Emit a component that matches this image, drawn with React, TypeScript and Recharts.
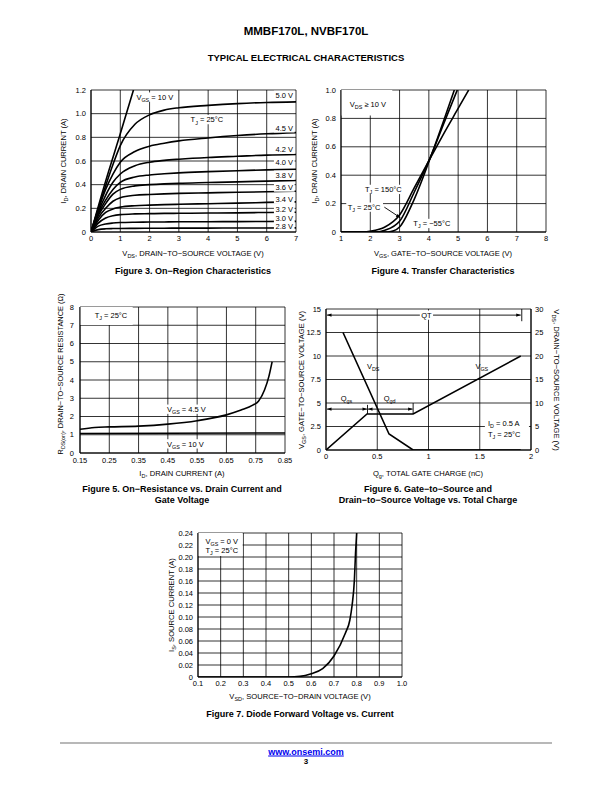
import React from 'react';
import {
  LineChart,
  Line,
  XAxis,
  YAxis,
  CartesianGrid,
  ReferenceDot,
  ReferenceLine,
  ReferenceArea,
} from 'recharts';

const FONT = '"Liberation Sans", Arial, Helvetica, sans-serif';
const INK = '#000';

// ---------------- Figure 3 : On-region characteristics ----------------
const f3Vds = [0, 0.25, 0.5, 0.75, 1, 1.5, 2, 2.5, 3, 4, 5, 6, 7];
const f3Id50 = [0, 0.2, 0.39, 0.57, 0.73, 0.91, 0.99, 1.03, 1.05, 1.07, 1.085, 1.095, 1.1];
const f3Id45 = [0, 0.19, 0.36, 0.49, 0.59, 0.68, 0.725, 0.75, 0.77, 0.795, 0.815, 0.83, 0.84];
const f3Id42 = [0, 0.17, 0.31, 0.42, 0.49, 0.56, 0.59, 0.605, 0.615, 0.63, 0.64, 0.65, 0.655];
const f3Id40 = [0, 0.155, 0.27, 0.36, 0.42, 0.465, 0.482, 0.492, 0.5, 0.51, 0.518, 0.525, 0.53];
const f3Id38 = [0, 0.14, 0.24, 0.32, 0.36, 0.39, 0.4, 0.407, 0.412, 0.418, 0.424, 0.43, 0.435];
const f3Id36 = [0, 0.12, 0.2, 0.26, 0.29, 0.31, 0.317, 0.322, 0.326, 0.331, 0.336, 0.34, 0.345];
const f3Id34 = [0, 0.1, 0.165, 0.195, 0.21, 0.222, 0.227, 0.231, 0.234, 0.239, 0.244, 0.25, 0.255];
const f3Id32 = [0, 0.075, 0.118, 0.138, 0.147, 0.153, 0.155, 0.157, 0.158, 0.16, 0.162, 0.165, 0.167];
const f3Id30 = [0, 0.05, 0.068, 0.076, 0.08, 0.083, 0.084, 0.085, 0.086, 0.087, 0.088, 0.089, 0.09];
const f3Id28 = [0, 0.02, 0.027, 0.029, 0.03, 0.031, 0.032, 0.032, 0.033, 0.033, 0.034, 0.034, 0.035];
const f3Vds10 = [0, 0.5, 1, 1.45];
const f3Id10 = [0, 0.43, 0.83, 1.2];
const f3Curves = [f3Id50, f3Id45, f3Id42, f3Id40, f3Id38, f3Id36, f3Id34, f3Id32, f3Id30, f3Id28];
const f3Labels = ['5.0 V', '4.5 V', '4.2 V', '4.0 V', '3.8 V', '3.6 V', '3.4 V', '3.2 V', '3.0 V', '2.8 V'];
const f3LabelY = [1.155, 0.88, 0.7, 0.59, 0.48, 0.38, 0.28, 0.19, 0.12, 0.05];
const f3XTicks = [0, 1, 2, 3, 4, 5, 6, 7];
const f3YTicks = [0, 0.2, 0.4, 0.6, 0.8, 1.0, 1.2];

// ---------------- Figure 4 : Transfer characteristics ----------------
const f4Vgs150 = [1, 1.8, 2, 2.5, 3, 3.5, 4.1, 4.5, 5, 5.36];
const f4Id150 = [0, 0, 0.005, 0.035, 0.12, 0.31, 0.54, 0.69, 0.87, 1.0];
const f4Vgs25 = [1, 2.2, 2.5, 3, 3.5, 4.1, 4.5, 4.97];
const f4Id25 = [0, 0, 0.012, 0.075, 0.28, 0.55, 0.76, 1.0];
const f4VgsM55 = [1, 2.6, 2.8, 3, 3.5, 4.1, 4.5, 4.87];
const f4IdM55 = [0, 0, 0.008, 0.035, 0.23, 0.55, 0.78, 1.0];
const f4XTicks = [1, 2, 3, 4, 5, 6, 7, 8];
const f4YTicks = [0, 0.2, 0.4, 0.6, 0.8, 1.0];

// ---------------- Figure 5 : On-resistance ----------------
const f5Id45 = [0.15, 0.2, 0.25, 0.35, 0.45, 0.55, 0.65, 0.7, 0.74, 0.76, 0.78, 0.795, 0.806];
const f5R45 = [1.3, 1.4, 1.43, 1.47, 1.58, 1.77, 2.09, 2.35, 2.62, 2.85, 3.45, 4.2, 5.0];
const f5Id10 = [0.15, 0.85];
const f5R10 = [1.07, 1.1];
const f5XTicks = [0.15, 0.25, 0.35, 0.45, 0.55, 0.65, 0.75, 0.85];
const f5YTicks = [0, 1, 2, 3, 4, 5, 6, 7, 8];

// ---------------- Figure 6 : Gate charge ----------------
const f6QgVgs = [0, 0.4, 0.85, 1.9];
const f6Vgs = [0, 3.83, 3.83, 10];
const f6QgVds = [0.166, 0.615, 0.85, 1.9];
const f6Vds = [25, 3.4, 0, 0];
const f6XTicks = [0, 0.5, 1, 1.5, 2];
const f6LTicks = [0, 2.5, 5, 7.5, 10, 12.5, 15];
const f6RTicks = [0, 5, 10, 15, 20, 25, 30];

// ---------------- Figure 7 : Diode forward ----------------
const f7Vsd = [0.1, 0.5, 0.55, 0.6, 0.65, 0.7, 0.75, 0.77, 0.78, 0.79, 0.795, 0.8];
const f7Is = [0, 0, 0.001, 0.0056, 0.014, 0.035, 0.073, 0.095, 0.12, 0.162, 0.206, 0.24];
const f7XTicks = [0.1, 0.2, 0.3, 0.4, 0.5, 0.6, 0.7, 0.8, 0.9, 1.0];
const f7YTicks = [0, 0.02, 0.04, 0.06, 0.08, 0.1, 0.12, 0.14, 0.16, 0.18, 0.2, 0.22, 0.24];

// ---------------- helpers ----------------
type Part = string | { sub: string };
const zip = (xs: number[], ys: number[]) => xs.map((x, i) => ({ x, y: ys[i] }));

const LW = 40;
const TP = 6;
const BH = 22;
const TICK = { fontSize: 7.5, fill: INK, fontFamily: FONT };
const AXIS = { stroke: INK, strokeWidth: 1 };

function strW(s: string) {
  let w = 0;
  for (const c of s) {
    if (' .,il()'.includes(c)) w += 0.28;
    else if (c >= 'A' && c <= 'Z') w += 0.68;
    else if ('=−≥'.includes(c)) w += 0.584;
    else if (c === '°') w += 0.4;
    else w += 0.556;
  }
  return w;
}
function partsW(parts: Part[], fs: number) {
  let w = 0;
  for (const p of parts) w += typeof p === 'string' ? strW(p) * fs : strW(p.sub) * fs * 0.72;
  return w;
}

function SvgText(props: { cx: number; cy: number; parts: Part[]; fs: number; anchor: string; box?: boolean }) {
  const { cx, cy, parts, fs, anchor, box } = props;
  const w = partsW(parts, fs);
  const x0 = anchor === 'end' ? cx - w : anchor === 'middle' ? cx - w / 2 : cx;
  const spans: React.ReactNode[] = [];
  let down = false;
  parts.forEach((p, i) => {
    if (typeof p === 'string') {
      spans.push(
        <tspan key={i} fontSize={fs} dy={down ? -fs * 0.3 : 0}>
          {p}
        </tspan>
      );
      down = false;
    } else {
      spans.push(
        <tspan key={i} fontSize={fs * 0.72} dy={down ? 0 : fs * 0.3}>
          {p.sub}
        </tspan>
      );
      down = true;
    }
  });
  return (
    <g>
      {box && <rect x={x0 - 1.5} y={cy - fs * 0.62} width={w + 3} height={fs * 1.24} fill="#fff" />}
      <text x={cx} y={cy + fs * 0.36} fontFamily={FONT} fill={INK} fontSize={fs} textAnchor={anchor as any}>
        {spans}
      </text>
    </g>
  );
}

type NoteOpts = { anchor?: string; box?: boolean; fs?: number; yAxisId?: string | number };
const note = (key: string, x: number, y: number, parts: Part[], o: NoteOpts = {}) => (
  <ReferenceDot
    key={key}
    x={x}
    y={y}
    r={0}
    yAxisId={o.yAxisId ?? 0}
    ifOverflow="visible"
    fill="none"
    stroke="none"
    shape={(p: any) => (
      <SvgText cx={p.cx} cy={p.cy} parts={parts} fs={o.fs ?? 7.5} anchor={o.anchor ?? 'start'} box={o.box} />
    )}
  />
);

function head(x: number, y: number, dx: number, dy: number, size = 4.5) {
  const len = Math.hypot(dx, dy) || 1;
  const ux = dx / len;
  const uy = dy / len;
  const bx = x - ux * size;
  const by = y - uy * size;
  const px = -uy * size * 0.38;
  const py = ux * size * 0.38;
  return `${x},${y} ${bx + px},${by + py} ${bx - px},${by - py}`;
}

type SegOpts = { start?: boolean; end?: boolean; w?: number };
const seg = (key: string, a: { x: number; y: number }, b: { x: number; y: number }, o: SegOpts = {}) => (
  <ReferenceLine
    key={key}
    segment={[a, b]}
    ifOverflow="visible"
    stroke={INK}
    shape={(p: any) => {
      const { x1, y1, x2, y2 } = p;
      return (
        <g>
          <line x1={x1} y1={y1} x2={x2} y2={y2} stroke={INK} strokeWidth={o.w ?? 0.9} />
          {o.end && <polygon points={head(x2, y2, x2 - x1, y2 - y1)} fill={INK} />}
          {o.start && <polygon points={head(x1, y1, x1 - x2, y1 - y2)} fill={INK} />}
        </g>
      );
    }}
  />
);

const whiteBox = (key: string, x1: number, x2: number, y1: number, y2: number) => (
  <ReferenceArea key={key} x1={x1} x2={x2} y1={y1} y2={y2} fill="#fff" fillOpacity={1} stroke="none" ifOverflow="visible" />
);

const curve = (key: string, xs: number[], ys: number[], type: any = 'monotone', yAxisId: string | number = 0) => (
  <Line
    key={key}
    data={zip(xs, ys)}
    dataKey="y"
    type={type}
    dot={false}
    activeDot={false}
    stroke={INK}
    strokeWidth={1.6}
    isAnimationActive={false}
    yAxisId={yAxisId}
  />
);

const xAxis = (domain: number[], ticks: number[], fmt: (v: number) => string, margin = 4) => (
  <XAxis
    key="xa"
    type="number"
    dataKey="x"
    domain={domain}
    ticks={ticks}
    interval={0}
    tickFormatter={fmt}
    tick={TICK}
    tickLine={false}
    tickSize={0}
    tickMargin={margin}
    axisLine={AXIS}
    height={BH}
    allowDataOverflow
  />
);

const yAxis = (
  domain: number[],
  ticks: number[],
  fmt: (v: number) => string,
  id: string | number = 0,
  right = false,
  w = LW,
  margin?: number
) => (
  <YAxis
    key={'ya' + id}
    yAxisId={id}
    orientation={right ? 'right' : 'left'}
    type="number"
    domain={domain}
    ticks={ticks}
    interval={0}
    tickFormatter={fmt}
    tick={TICK}
    tickLine={false}
    tickSize={0}
    tickMargin={margin ?? (right ? 4 : 5)}
    axisLine={AXIS}
    width={w}
    allowDataOverflow
  />
);

function Panel(props: { px: number; py: number; pw: number; ph: number; rightW?: number; children: React.ReactNode }) {
  const { px, py, pw, ph, rightW = 0, children } = props;
  const RP = rightW ? 0 : 8;
  return (
    <div style={{ position: 'absolute', left: px - LW, top: py - TP }}>
      <LineChart
        width={LW + pw + rightW + RP}
        height={TP + ph + BH}
        margin={{ top: TP, right: RP, bottom: 0, left: 0 }}
      >
        {children}
      </LineChart>
    </div>
  );
}

const Sub = ({ children }: { children: React.ReactNode }) => (
  <span style={{ fontSize: '0.72em', position: 'relative', top: '0.3em' }}>{children}</span>
);

function T(props: { x: number; y: number; size?: number; bold?: boolean; rot?: number; color?: string; children: React.ReactNode; underline?: boolean }) {
  const { x, y, size = 7.6, bold = false, rot = 0, color = INK, children, underline } = props;
  return (
    <div
      style={{
        position: 'absolute',
        left: x,
        top: y,
        transform: `translate(-50%, -50%) rotate(${rot}deg)`,
        fontSize: size,
        fontWeight: bold ? 700 : 400,
        fontFamily: FONT,
        whiteSpace: 'nowrap',
        lineHeight: 1,
        color,
        textDecoration: underline ? 'underline' : 'none',
      }}
    >
      {children}
    </div>
  );
}

const fmt1 = (v: number) => (v === 0 ? '0' : v.toFixed(1));
const fmt2 = (v: number) => v.toFixed(2);
const fmtPlain = (v: number) => String(v);
const fmt7y = (v: number) => (v === 0 ? '0' : v.toFixed(2));

const GRID = <CartesianGrid key="grid" stroke={INK} strokeWidth={0.8} />;

export default function App() {
  return (
    <div style={{ position: 'absolute', left: 0, top: 0, width: 612, height: 792, background: '#fff', overflow: 'hidden' }}>
      <T x={306} y={32} size={11.5} bold>
        MMBF170L, NVBF170L
      </T>
      <T x={306} y={58} size={9.5} bold>
        TYPICAL ELECTRICAL CHARACTERISTICS
      </T>

      {/* Figure 3 */}
      <Panel px={91} py={90} pw={205} ph={142}>
        {GRID}
        {xAxis([0, 7], f3XTicks, fmtPlain)}
        {yAxis([0, 1.2], f3YTicks, fmt1)}
        {f3Curves.map((c, i) => curve('f3c' + i, f3Vds, c))}
        {curve('f3c10', f3Vds10, f3Id10)}
        {f3Labels.map((l, i) => note('f3l' + i, 6.9, f3LabelY[i], [l], { anchor: 'end', box: true }))}
        {note('f3vgs', 1.55, 1.14, ['V', { sub: 'GS' }, ' = 10 V'], { box: true })}
        {note('f3tj', 3.4, 0.95, ['T', { sub: 'J' }, ' = 25°C'], { box: true })}
      </Panel>
      <T x={64} y={161} rot={-90}>
        I<Sub>D</Sub>, DRAIN CURRENT (A)
      </T>
      <T x={193} y={254}>
        V<Sub>DS</Sub>, DRAIN−TO−SOURCE VOLTAGE (V)
      </T>
      <T x={193} y={271} size={9} bold>
        Figure 3. On−Region Characteristics
      </T>

      {/* Figure 4 */}
      <Panel px={341} py={90} pw={205} ph={142}>
        {GRID}
        {xAxis([1, 8], f4XTicks, fmtPlain)}
        {yAxis([0, 1], f4YTicks, fmt1)}
        {whiteBox('f4box', 1, 2.75, 0.82, 1.0)}
        {curve('f4a', f4Vgs150, f4Id150)}
        {curve('f4b', f4Vgs25, f4Id25)}
        {curve('f4c', f4VgsM55, f4IdM55)}
        {note('f4vds', 1.3, 0.9, ['V', { sub: 'DS' }, ' ≥ 10 V'])}
        {note('f4t150', 1.82, 0.3, ['T', { sub: 'J' }, ' = 150°C'], { box: true })}
        {note('f4t25', 1.23, 0.175, ['T', { sub: 'J' }, ' = 25°C'], { box: true })}
        {seg('f4arr', { x: 2.48, y: 0.175 }, { x: 3.03, y: 0.1 }, { end: true })}
        {note('f4t55', 3.47, 0.06, ['T', { sub: 'J' }, ' = −55°C'], { box: true })}
      </Panel>
      <T x={315} y={161} rot={-90}>
        I<Sub>D</Sub>, DRAIN CURRENT (A)
      </T>
      <T x={443} y={254}>
        V<Sub>GS</Sub>, GATE−TO−SOURCE VOLTAGE (V)
      </T>
      <T x={443} y={271} size={9} bold>
        Figure 4. Transfer Characteristics
      </T>

      {/* Figure 5 */}
      <Panel px={80} py={307} pw={205} ph={146}>
        {GRID}
        {xAxis([0.15, 0.85], f5XTicks, fmt2, 5)}
        {yAxis([0, 8], f5YTicks, fmtPlain, 0, false, LW, 6)}
        {whiteBox('f5box', 0.15, 0.33, 7.02, 8)}
        {curve('f5a', f5Id45, f5R45)}
        {curve('f5b', f5Id10, f5R10, 'linear')}
        {note('f5tj', 0.2, 7.57, ['T', { sub: 'J' }, ' = 25°C'])}
        {note('f5v45', 0.447, 2.4, ['V', { sub: 'GS' }, ' = 4.5 V'], { box: true })}
        {note('f5v10', 0.447, 0.5, ['V', { sub: 'GS' }, ' = 10 V'], { box: true })}
      </Panel>
      <T x={61} y={374} size={7.4} rot={-90}>
        R<Sub>DS(on)</Sub>, DRAIN−TO−SOURCE RESISTANCE (Ω)
      </T>
      <T x={182} y={474}>
        I<Sub>D</Sub>, DRAIN CURRENT (A)
      </T>
      <T x={182} y={489} size={9} bold>
        Figure 5. On−Resistance vs. Drain Current and
      </T>
      <T x={182} y={500} size={9} bold>
        Gate Voltage
      </T>

      {/* Figure 6 */}
      <Panel px={326} py={309} pw={205} ph={141} rightW={30}>
        {GRID}
        {xAxis([0, 2], f6XTicks, fmtPlain)}
        {yAxis([0, 15], f6LTicks, fmtPlain)}
        {yAxis([0, 30], f6RTicks, fmtPlain, 'right', true, 30)}
        {whiteBox('f6box', 1.55, 1.98, 1.05, 3.45)}
        {curve('f6vgs', f6QgVgs, f6Vgs, 'linear')}
        {curve('f6vds', f6QgVds, f6Vds, 'linear', 'right')}
        {seg('f6qt', { x: 0.01, y: 14.35 }, { x: 1.9, y: 14.35 }, { start: true, end: true })}
        {seg('f6qtv', { x: 1.91, y: 13.7 }, { x: 1.91, y: 15 })}
        {note('f6qtl', 0.98, 14.35, ['QT'], { anchor: 'middle', box: true })}
        {seg('f6qgs', { x: 0.01, y: 4.35 }, { x: 0.4, y: 4.35 }, { start: true, end: true })}
        {seg('f6qgd', { x: 0.41, y: 4.35 }, { x: 0.845, y: 4.35 }, { start: true, end: true })}
        {seg('f6v1', { x: 0.405, y: 3.83 }, { x: 0.405, y: 4.8 })}
        {seg('f6v2', { x: 0.85, y: 3.83 }, { x: 0.85, y: 5.0 })}
        {note('f6qgsl', 0.2, 5.5, ['Q', { sub: 'gs' }], { anchor: 'middle' })}
        {note('f6qgdl', 0.62, 5.5, ['Q', { sub: 'gd' }], { anchor: 'middle' })}
        {note('f6vdsl', 0.46, 8.9, ['V', { sub: 'DS' }], { anchor: 'middle' })}
        {note('f6vgsl', 1.52, 8.9, ['V', { sub: 'GS' }], { anchor: 'middle' })}
        {note('f6id', 1.58, 2.85, ['I', { sub: 'D' }, ' = 0.5 A'])}
        {note('f6tj', 1.58, 1.65, ['T', { sub: 'J' }, ' = 25°C'])}
      </Panel>
      <T x={302} y={380} rot={-90}>
        V<Sub>GS</Sub>, GATE−TO−SOURCE VOLTAGE (V)
      </T>
      <T x={556} y={380} rot={90}>
        V<Sub>DS</Sub>, DRAIN−TO−SOURCE VOLTAGE (V)
      </T>
      <T x={428} y={474}>
        Q<Sub>g</Sub>, TOTAL GATE CHARGE (nC)
      </T>
      <T x={428} y={489} size={9} bold>
        Figure 6. Gate−to−Source and
      </T>
      <T x={428} y={500} size={9} bold>
        Drain−to−Source Voltage vs. Total Charge
      </T>

      {/* Figure 7 */}
      <Panel px={198} py={533} pw={204} ph={144}>
        {GRID}
        {xAxis([0.1, 1.0], f7XTicks, fmt1)}
        {yAxis([0, 0.24], f7YTicks, fmt7y)}
        {whiteBox('f7box', 0.1, 0.297, 0.2015, 0.24)}
        {curve('f7a', f7Vsd, f7Is)}
        {note('f7vgs', 0.133, 0.2265, ['V', { sub: 'GS' }, ' = 0 V'])}
        {note('f7tj', 0.133, 0.2115, ['T', { sub: 'J' }, ' = 25°C'])}
      </Panel>
      <T x={172} y={605} rot={-90}>
        I<Sub>S</Sub>, SOURCE CURRENT (A)
      </T>
      <T x={300} y={697}>
        V<Sub>SD</Sub>, SOURCE−TO−DRAIN VOLTAGE (V)
      </T>
      <T x={300} y={714} size={9} bold>
        Figure 7. Diode Forward Voltage vs. Current
      </T>

      {/* footer */}
      <div style={{ position: 'absolute', left: 60, top: 742, width: 492, height: 2, background: '#b8b8b8' }} />
      <T x={306} y={752} size={9} bold color="#0000ee" underline>
        www.onsemi.com
      </T>
      <T x={306} y={762} size={8} bold>
        3
      </T>
    </div>
  );
}
